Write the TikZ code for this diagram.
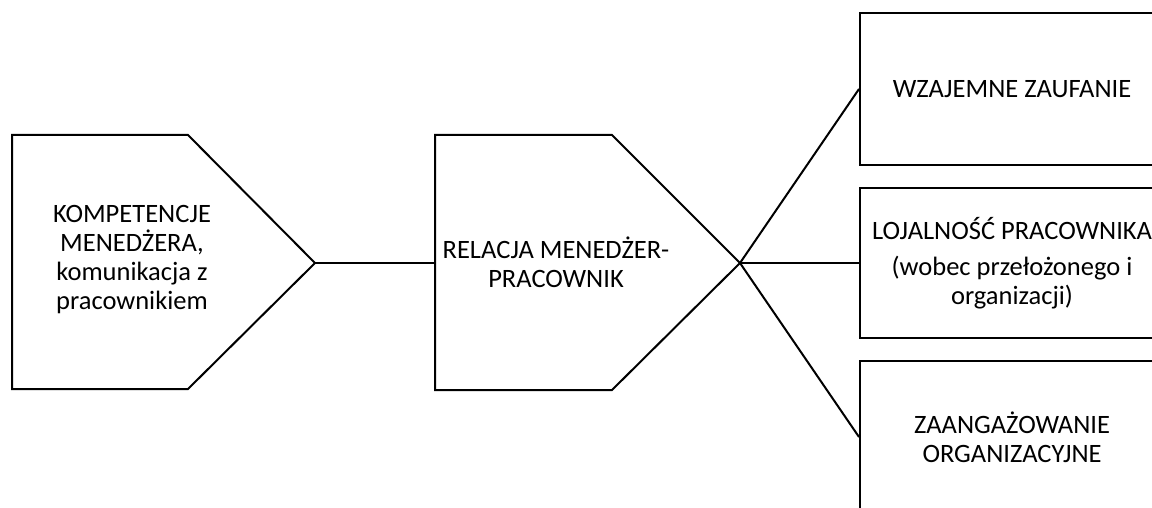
\documentclass[tikz,border=0pt]{standalone}
\usepackage{fontspec}
\setmainfont{Carlito}
\begin{document}
\begin{tikzpicture}[x=1pt,y=-1pt,
  shp/.style={line width=2pt, line join=miter},
  conn/.style={line width=2pt},
  lbl/.style={align=center, font=\fontsize{26.5}{29}\selectfont, inner sep=0pt},
  outbox/.style={draw, line width=2pt, minimum width=304pt, minimum height=152pt, inner sep=0pt, align=center, font=\fontsize{26.5}{29}\selectfont}]
\useasboundingbox (0,0) rectangle (1152,508);
\clip (0,0) rectangle (1152,508);
% left pentagon
\coordinate (a1) at (12,135);
\coordinate (a2) at (188,135);
\coordinate (tipA) at (315,263);
\coordinate (a4) at (188,389);
\coordinate (a5) at (12,389);
\draw[shp] (a1) -- (a2) -- (tipA) -- (a4) -- (a5) -- cycle;
\node[lbl] (kompet) at (132,260) {KOMPETENCJE\\MENEDŻERA,\\komunikacja z\\pracownikiem};
% middle pentagon
\coordinate (b1) at (435,135);
\coordinate (b2) at (612,135);
\coordinate (tipB) at (740,263);
\coordinate (b4) at (612,390);
\coordinate (b5) at (435,390);
\coordinate (inB) at (435,263);
\draw[shp] (b1) -- (b2) -- (tipB) -- (b4) -- (b5) -- cycle;
\node[lbl] (relacja) at (556,262) {RELACJA MENEDŻER-\\PRACOWNIK};
% right boxes
\node[outbox] (zauf) at (1012,89) {WZAJEMNE ZAUFANIE};
\node[outbox, minimum height=150pt] (lojal) at (1012,263) {LOJALNOŚĆ PRACOWNIKA\\[7pt](wobec przełożonego i\\organizacji)};
\node[outbox] (zaang) at (1012,437) {ZAANGAŻOWANIE\\ORGANIZACYJNE};
% connectors
\draw[conn] (tipA) -- (inB);
\draw[conn] (tipB) -- (zauf.west);
\draw[conn] (tipB) -- (lojal.west);
\draw[conn] (tipB) -- (zaang.west);
\end{tikzpicture}
\end{document}
